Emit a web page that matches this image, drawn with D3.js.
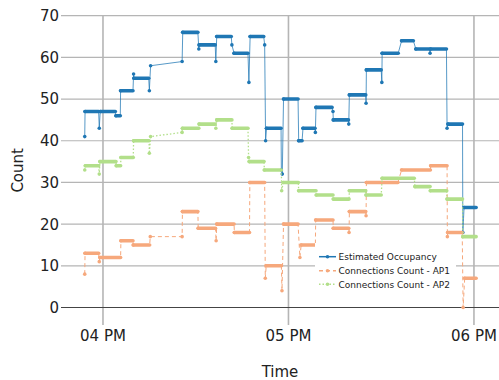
<!DOCTYPE html>
<html>
<head>
<meta charset="utf-8">
<script src="https://cdn.jsdelivr.net/npm/d3@7"></script>
<style>
  html, body { margin: 0; padding: 0; background: #fff; }
  svg { display: block; font-family: "DejaVu Sans", Verdana, sans-serif; }
</style>
</head>
<body>
<svg id="chart" width="499" height="380"></svg>
<script>
// ---- DATA (times in minutes after 04:00 PM; [start, end, value]) ----
const occupancy = [
  [-5.9,-5.9,41],[-5.8,-1.4,47],[-1.2,-1.2,43],[-0.9,4.0,47],[4.2,5.6,46],
  [5.7,9.7,52],[9.9,9.9,56],[10.0,14.8,55],[15.0,15.0,52],[15.4,15.4,58],
  [25.6,25.6,59],[25.8,30.7,66],[31.0,31.0,62],[31.1,36.3,63],[36.5,36.5,59],
  [36.8,41.5,65],[41.7,41.7,63],[42.4,46.9,61],[47.2,47.2,54],[47.6,52.0,65],
  [52.3,52.3,63],[52.6,52.6,40],[52.9,57.6,43],[57.7,57.7,33],[58.0,58.0,32],
  [58.4,63.1,50],[63.3,64.4,40],[64.7,68.6,43],[68.7,68.7,42],[68.9,74.1,48],
  [74.4,74.4,47],[74.5,79.4,45],[79.5,79.5,44],[79.7,85.0,51],[85.1,85.1,49],
  [85.2,90.0,57],[90.2,90.2,54],[90.3,95.5,61],[96.6,100.4,64],[101.2,105.6,62],
  [105.8,105.8,61],[106.0,111.1,62],[111.3,111.3,43],[111.6,116.3,44],
  [116.4,116.4,18],[116.8,120.7,24]
];
const ap1 = [
  [-5.9,-5.9,8],[-5.8,-1.4,13],[-1.2,-1.2,11],[-1.0,5.7,12],[5.8,9.7,16],
  [9.8,15.1,15],[15.3,15.3,17],[25.6,25.6,17],[25.7,30.7,23],[30.8,36.4,19],
  [36.6,36.6,16],[36.8,42.4,20],[42.5,47.4,18],[47.5,52.3,30],[52.5,52.5,7],
  [52.8,57.7,10],[57.9,57.9,4],[58.4,63.1,20],[63.7,63.7,12],[64.1,68.7,15],
  [68.8,74.4,21],[74.5,79.5,19],[79.6,79.6,18],[79.7,85.0,23],[85.1,85.1,22],
  [85.2,95.4,30],[96.6,105.9,33],[106.0,111.3,34],[111.4,111.4,17],
  [111.5,116.2,18],[116.5,116.5,0],[117.0,120.7,7]
];
const ap2 = [
  [-5.9,-5.9,33],[-5.7,-1.4,34],[-1.2,-1.2,32],[-1.0,4.2,35],[4.3,5.7,34],
  [5.8,9.8,36],[9.9,14.9,40],[15.0,15.0,37],[15.4,15.4,41],[25.6,25.6,42],
  [25.7,31.0,43],[31.1,36.3,44],[36.5,36.5,43],[36.8,41.7,45],[41.8,46.9,43],
  [47.1,47.1,36],[47.3,52.1,35],[52.2,57.7,33],[57.8,57.8,28],[58.3,63.2,30],
  [63.3,68.9,28],[69.0,74.4,27],[74.5,79.6,26],[79.7,85.0,28],[85.1,90.0,27],
  [90.3,100.7,31],[100.9,105.8,29],[105.9,111.2,28],[111.3,116.3,26],
  [116.4,120.7,17]
];
const yTicks = [0, 10, 20, 30, 40, 50, 60, 70];
const xTickMinutes = [0, 60, 120];
const seriesNames = ["Estimated Occupancy", "Connections Count - AP1", "Connections Count - AP2"];

// ---- SETUP ----
const svg = d3.select("#chart");
const base = new Date(2021, 0, 1, 16, 0, 0);
const toDate = m => new Date(base.getTime() + m * 60000);

const pLeft = 61, pRight = 499, pTop = 15.7, pBottom = 325;
const x = d3.scaleTime().domain([toDate(-13.58), toDate(128.1)]).range([pLeft, pRight]);
const y = d3.scaleLinear().domain([-4.2, 70]).range([pBottom, pTop]);

// grid
const grid = svg.append("g");
grid.selectAll("line.h").data(yTicks.filter(d => d !== 0)).join("line")
  .attr("x1", pLeft).attr("x2", pRight)
  .attr("y1", d => y(d)).attr("y2", d => y(d))
  .attr("stroke", "#b5b5b5").attr("stroke-width", 1.2);
grid.selectAll("line.v").data(xTickMinutes).join("line")
  .attr("x1", d => x(toDate(d))).attr("x2", d => x(toDate(d)))
  .attr("y1", pTop).attr("y2", pBottom)
  .attr("stroke", "#b5b5b5").attr("stroke-width", 1.6);
svg.append("line")
  .attr("x1", pLeft).attr("x2", pRight).attr("y1", y(0)).attr("y2", y(0))
  .attr("stroke", "#444").attr("stroke-width", 1.2);

// tick labels
svg.append("g").selectAll("text").data(yTicks).join("text")
  .attr("x", pLeft - 2).attr("y", d => y(d)).attr("dy", "0.36em")
  .attr("text-anchor", "end").attr("font-size", 15).attr("fill", "#222")
  .text(d => d);
const fmt = d3.timeFormat("%I %p");
svg.append("g").selectAll("text").data(xTickMinutes).join("text")
  .attr("x", d => x(toDate(d))).attr("y", 341)
  .attr("text-anchor", "middle").attr("font-size", 15).attr("fill", "#222")
  .text(d => fmt(toDate(d)));

// axis titles
svg.append("text").attr("x", (pLeft + pRight) / 2).attr("y", 376.5)
  .attr("text-anchor", "middle").attr("font-size", 15).attr("fill", "#222").text("Time");
svg.append("text").attr("transform", `translate(23,${(pTop + pBottom) / 2}) rotate(-90)`)
  .attr("text-anchor", "middle").attr("font-size", 15).attr("fill", "#222").text("Count");

// ---- SERIES ----
const styles = [
  { data: occupancy, color: "#1f77b4", line: "#1f77b4", dash: null, lw: 1, op: 0.75 },
  { data: ap1, color: "#f6a87c", line: "#f6a87c", dash: "4,3", lw: 1, op: 1 },
  { data: ap2, color: "#b2df8a", line: "#b2df8a", dash: "1.5,2", lw: 1.3, op: 1 }
];
const lineGen = d3.line().x(d => x(toDate(d[0]))).y(d => y(d[1]));

styles.forEach(s => {
  const pts = [];
  s.data.forEach(([a, b, v]) => { pts.push([a, v]); if (b !== a) pts.push([b, v]); });
  const g = svg.append("g");
  g.append("path").attr("d", lineGen(pts)).attr("fill", "none")
    .attr("stroke", s.line).attr("stroke-width", s.lw).attr("stroke-opacity", s.op)
    .attr("stroke-dasharray", s.dash);
  // dense-sample plateaus
  g.selectAll("line").data(s.data.filter(d => d[1] > d[0])).join("line")
    .attr("x1", d => x(toDate(d[0]))).attr("x2", d => x(toDate(d[1])))
    .attr("y1", d => y(d[2])).attr("y2", d => y(d[2]))
    .attr("stroke", s.color).attr("stroke-width", 3.6).attr("stroke-linecap", "round");
  g.selectAll("circle").data(s.data).join("circle")
    .attr("cx", d => x(toDate(d[0]))).attr("cy", d => y(d[2])).attr("r", 1.8)
    .attr("fill", s.color);
});

// ---- LEGEND ----
const lg = svg.append("g");
lg.append("rect").attr("x", 315).attr("y", 243).attr("width", 141).attr("height", 55).attr("fill", "#fff");
const rowsY = [256.7, 270.7, 284.3];
styles.forEach((s, i) => {
  lg.append("line").attr("x1", 319).attr("x2", 336).attr("y1", rowsY[i]).attr("y2", rowsY[i])
    .attr("stroke", s.line).attr("stroke-width", 1.5).attr("stroke-dasharray", s.dash);
  lg.append("circle").attr("cx", 327.5).attr("cy", rowsY[i]).attr("r", 1.8).attr("fill", s.color);
  lg.append("text").attr("x", 338.5).attr("y", rowsY[i]).attr("dy", "0.36em")
    .attr("font-size", 9).attr("fill", "#222").text(seriesNames[i]);
});
</script>
</body>
</html>
